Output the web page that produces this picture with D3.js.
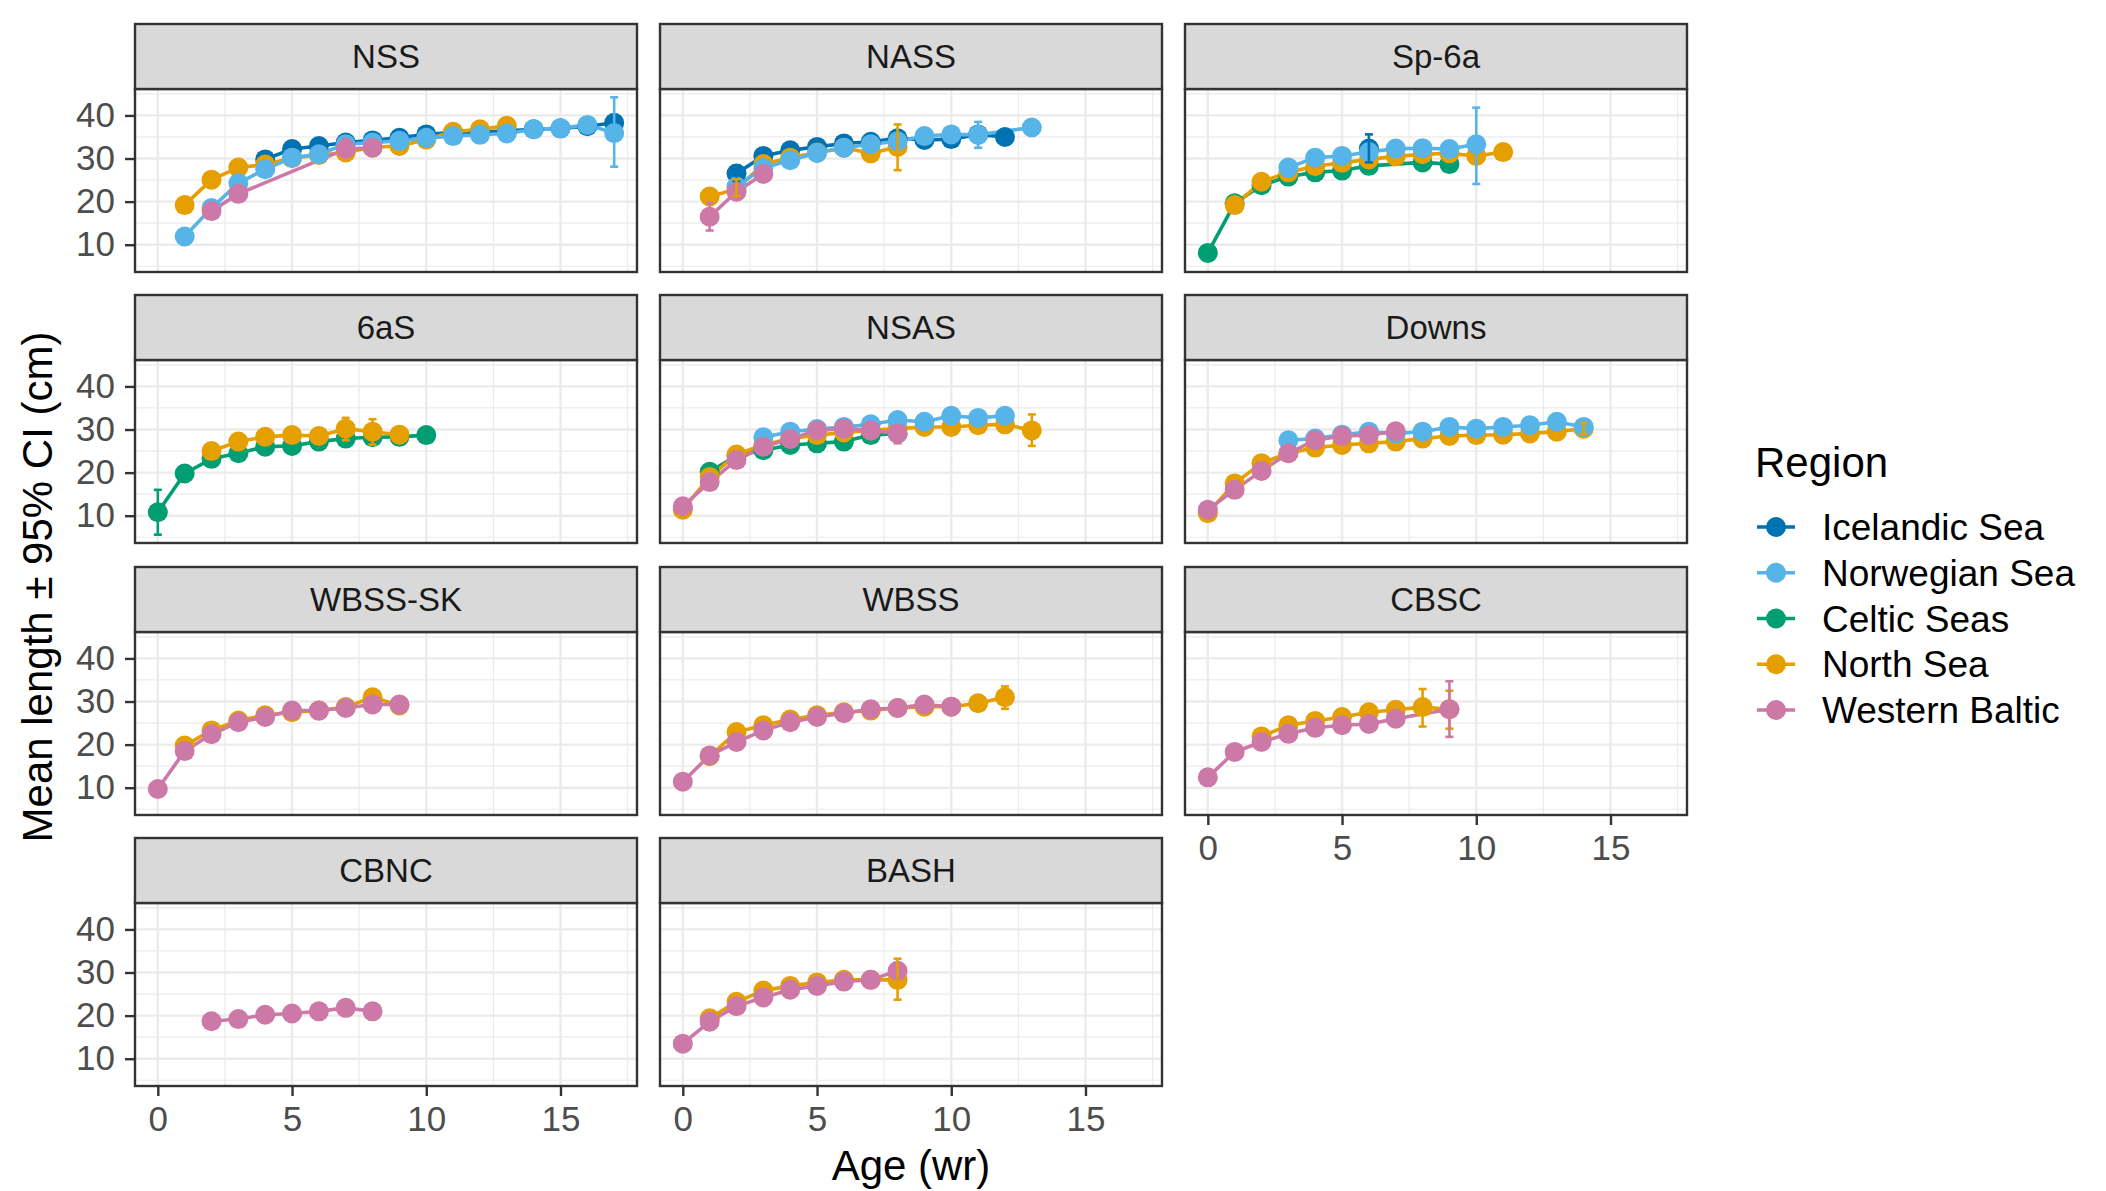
<!DOCTYPE html>
<html><head><meta charset="utf-8">
<script src="https://cdn.jsdelivr.net/npm/d3@7"></script>
<style>body{margin:0;background:#fff}svg{display:block;font-family:"Liberation Sans",Arial,Helvetica,sans-serif}</style>
</head><body><svg id="chart" width="2106" height="1191"></svg>
<script>
// ---------------- DATA ----------------
const panels = ["NSS","NASS","Sp-6a","6aS","NSAS","Downs","WBSS-SK","WBSS","CBSC","CBNC","BASH"];
const regions = ["Icelandic Sea","Norwegian Sea","Celtic Seas","North Sea","Western Baltic"];
const regionColors = ["#0072B2","#56B4E9","#009E73","#E69F00","#CC79A7"];
const drawOrder = ["Celtic Seas","Icelandic Sea","North Sea","Norwegian Sea","Western Baltic"];
const xTicks = [0,5,10,15];
const yTicks = [10,20,30,40];

// mean length per age (cm), one record per panel x region
const series = [
  {panel:"NSS", region:"Icelandic Sea", ages:[4,5,6,7,8,9,10,11,12,13,14,15,16,17], len:[29.8,32.2,32.9,33.7,34.2,34.8,35.6,36.0,36.2,36.4,36.8,37.0,37.5,38.3]},
  {panel:"NSS", region:"Norwegian Sea", ages:[1,2,3,4,5,6,7,8,9,10,11,12,13,14,15,16,17], len:[11.9,18.5,24.3,27.5,30.2,31.0,33.3,33.7,34.1,34.8,35.2,35.5,35.8,36.8,37.0,37.8,35.9]},
  {panel:"NSS", region:"North Sea", ages:[1,2,3,4,5,6,7,8,9,10,11,12,13], len:[19.2,25.1,27.9,28.6,30.1,30.8,31.4,32.6,32.9,34.4,36.2,36.8,37.6]},
  {panel:"NSS", region:"Western Baltic", ages:[2,3,7,8], len:[17.8,21.8,32.2,32.5]},

  {panel:"NASS", region:"Icelandic Sea", ages:[2,3,4,5,6,7,8,9,10,11,12], len:[26.5,30.6,31.9,32.7,33.5,33.9,34.7,34.3,34.5,35.6,35.0]},
  {panel:"NASS", region:"Norwegian Sea", ages:[2,3,4,5,6,7,8,9,10,11,13], len:[23.5,27.8,29.6,31.3,32.5,33.3,34.0,35.2,35.6,35.5,37.2]},
  {panel:"NASS", region:"North Sea", ages:[1,2,3,4,5,6,7,8], len:[21.2,22.9,28.7,30.2,31.4,32.5,31.2,32.7]},
  {panel:"NASS", region:"Western Baltic", ages:[1,2,3], len:[16.5,22.3,26.4]},

  {panel:"Sp-6a", region:"Icelandic Sea", ages:[6], len:[32.3]},
  {panel:"Sp-6a", region:"Norwegian Sea", ages:[3,4,5,6,7,8,9,10], len:[27.9,30.2,30.6,31.5,32.3,32.4,32.2,33.3]},
  {panel:"Sp-6a", region:"Celtic Seas", ages:[0,1,2,3,4,5,6,8,9], len:[8.1,19.6,23.8,25.8,26.8,27.2,28.3,29.1,28.7]},
  {panel:"Sp-6a", region:"North Sea", ages:[1,2,3,4,5,6,7,8,9,10,11], len:[19.2,24.6,26.8,28.2,29.0,29.8,30.5,31.0,31.2,30.6,31.5]},

  {panel:"6aS", region:"Celtic Seas", ages:[0,1,2,3,4,5,6,7,8,9,10], len:[10.8,19.8,23.2,24.5,26.0,26.2,27.2,27.9,28.2,28.3,28.7]},
  {panel:"6aS", region:"North Sea", ages:[2,3,4,5,6,7,8,9], len:[25.0,27.2,28.3,28.7,28.5,30.2,29.5,28.8]},

  {panel:"NSAS", region:"Norwegian Sea", ages:[3,4,5,6,7,8,9,10,11,12], len:[28.2,29.5,30.1,30.6,31.2,32.2,31.8,33.2,32.7,33.2]},
  {panel:"NSAS", region:"Celtic Seas", ages:[1,2,3,4,5,6,7,8], len:[20.2,23.9,25.2,26.4,26.8,27.2,28.7,29.1]},
  {panel:"NSAS", region:"North Sea", ages:[0,1,2,3,4,5,6,7,8,9,10,11,12,13], len:[11.4,19.0,24.2,26.4,27.9,28.7,29.3,29.8,30.2,30.6,30.6,31.0,31.2,29.8]},
  {panel:"NSAS", region:"Western Baltic", ages:[0,1,2,3,4,5,6,7,8], len:[12.2,17.8,22.9,26.0,27.8,29.8,30.2,29.8,29.1]},

  {panel:"Downs", region:"Norwegian Sea", ages:[3,4,5,6,7,8,9,10,11,12,13,14], len:[27.5,27.9,28.8,29.5,29.1,29.5,30.6,30.2,30.6,31.0,31.8,30.6]},
  {panel:"Downs", region:"North Sea", ages:[0,1,2,3,4,5,6,7,8,9,10,11,12,13,14], len:[10.6,17.5,22.2,24.5,25.8,26.4,26.8,27.2,27.9,28.5,28.7,28.8,29.1,29.5,30.2]},
  {panel:"Downs", region:"Western Baltic", ages:[0,1,2,3,4,5,6,7], len:[11.4,16.0,20.4,24.5,27.5,28.5,28.7,29.6]},

  {panel:"WBSS-SK", region:"North Sea", ages:[1,2,3,4,5,6,7,8,9], len:[19.8,23.3,25.6,26.8,27.5,27.9,28.7,31.0,29.1]},
  {panel:"WBSS-SK", region:"Western Baltic", ages:[0,1,2,3,4,5,6,7,8,9], len:[9.7,18.5,22.4,25.2,26.4,27.9,27.9,28.5,29.3,29.3]},

  {panel:"WBSS", region:"North Sea", ages:[1,2,3,4,5,6,7,8,9,10,11,12], len:[17.3,22.9,24.5,25.8,26.8,27.5,27.9,28.5,28.8,28.8,29.6,31.0]},
  {panel:"WBSS", region:"Western Baltic", ages:[0,1,2,3,4,5,6,7,8,9,10], len:[11.4,17.5,20.6,23.3,25.2,26.4,27.3,28.2,28.5,29.3,28.8]},

  {panel:"CBSC", region:"North Sea", ages:[2,3,4,5,6,7,8,9], len:[21.9,24.5,25.5,26.4,27.5,28.1,28.7,28.2]},
  {panel:"CBSC", region:"Western Baltic", ages:[0,1,2,3,4,5,6,7,9], len:[12.4,18.3,20.6,22.5,23.9,24.5,24.8,26.0,28.2]},

  {panel:"CBNC", region:"Western Baltic", ages:[2,3,4,5,6,7,8], len:[18.7,19.2,20.2,20.5,21.0,21.8,21.0]},

  {panel:"BASH", region:"North Sea", ages:[1,2,3,4,5,6,7,8], len:[19.4,23.2,25.8,26.9,27.7,28.3,28.3,28.3]},
  {panel:"BASH", region:"Western Baltic", ages:[0,1,2,3,4,5,6,7,8], len:[13.5,18.6,22.2,24.2,26.0,26.9,27.9,28.3,30.4]}
];

// visible 95% CI bars: [panel, region, age, lower, upper]
const errorBars = [
  ["NSS","Norwegian Sea",17,28.1,44.2],
  ["NSS","Western Baltic",7,30.8,34.5],
  ["NASS","Icelandic Sea",2,24.8,28.4],
  ["NASS","North Sea",2,21.3,25.2],
  ["NASS","North Sea",8,27.3,37.9],
  ["NASS","Western Baltic",1,13.3,19.7],
  ["NASS","Norwegian Sea",11,32.5,38.5],
  ["Sp-6a","Icelandic Sea",6,29.1,35.6],
  ["Sp-6a","Norwegian Sea",10,24.1,41.8],
  ["6aS","Celtic Seas",0,5.6,16.0],
  ["6aS","North Sea",7,27.5,32.7],
  ["6aS","North Sea",8,26.5,32.4],
  ["NSAS","North Sea",13,26.2,33.5],
  ["NSAS","Western Baltic",8,26.8,30.6],
  ["Downs","North Sea",14,29.0,31.5],
  ["WBSS","North Sea",12,28.3,33.5],
  ["CBSC","North Sea",8,24.2,32.9],
  ["CBSC","North Sea",9,23.7,32.5],
  ["CBSC","Western Baltic",9,21.8,34.7],
  ["BASH","North Sea",8,23.7,33.2]
];

// ---------------- LAYOUT ----------------
const colX = [135, 660, 1185];
const rowY = [24, 295, 567, 838];
const panelW = 502, stripH = 65, plotH = 183;
const color = d3.scaleOrdinal().domain(regions).range(regionColors);

const allAges = series.flatMap(s => s.ages);
const xe = d3.extent(allAges), xp = (xe[1]-xe[0])*0.05;
const x = d3.scaleLinear().domain([xe[0]-xp, xe[1]+xp]).range([0, panelW]);
const allY = series.flatMap(s => s.len).concat(errorBars.flatMap(e => [e[3], e[4]]));
const ye = d3.extent(allY), yp = (ye[1]-ye[0])*0.05;
const y = d3.scaleLinear().domain([ye[0]-yp, ye[1]+yp]).range([plotH, 0]);

const xMinor = [2.5,7.5,12.5,17.5];
const yMinor = [5,15,25,35,45];

const svg = d3.select("#chart");
svg.append("rect").attr("width",2106).attr("height",1191).attr("fill","#fff");

const line = d3.line().x(d => x(d[0])).y(d => y(d[1]));
const bottomPanels = ["CBNC","BASH","CBSC"];
const R = 10, LW = 3.6;

panels.forEach((p, i) => {
  const c = i % 3, r = Math.floor(i / 3);
  const gx = colX[c], gy = rowY[r] + stripH;
  const g = svg.append("g").attr("transform", `translate(${gx},${gy})`);
  g.append("rect").attr("width", panelW).attr("height", plotH).attr("fill", "#fff");

  // grid
  g.selectAll(".xmin").data(xMinor.filter(v => v >= x.domain()[0] && v <= x.domain()[1])).join("line")
    .attr("x1", d => x(d)).attr("x2", d => x(d)).attr("y1", 0).attr("y2", plotH)
    .attr("stroke", "#ebebeb").attr("stroke-width", 1.2);
  g.selectAll(".ymin").data(yMinor.filter(v => v >= y.domain()[0] && v <= y.domain()[1])).join("line")
    .attr("y1", d => y(d)).attr("y2", d => y(d)).attr("x1", 0).attr("x2", panelW)
    .attr("stroke", "#ebebeb").attr("stroke-width", 1.2);
  g.selectAll(".xmaj").data(xTicks).join("line")
    .attr("x1", d => x(d)).attr("x2", d => x(d)).attr("y1", 0).attr("y2", plotH)
    .attr("stroke", "#ebebeb").attr("stroke-width", 2.4);
  g.selectAll(".ymaj").data(yTicks).join("line")
    .attr("y1", d => y(d)).attr("y2", d => y(d)).attr("x1", 0).attr("x2", panelW)
    .attr("stroke", "#ebebeb").attr("stroke-width", 2.4);

  const ps = series.filter(s => s.panel === p)
    .sort((a, b) => drawOrder.indexOf(a.region) - drawOrder.indexOf(b.region));

  // lines
  ps.forEach(s => {
    g.append("path").datum(d3.zip(s.ages, s.len)).attr("d", line)
      .attr("fill", "none").attr("stroke", color(s.region)).attr("stroke-width", LW)
      .attr("stroke-linejoin", "round");
  });
  // points
  ps.forEach(s => {
    g.selectAll(null).data(d3.zip(s.ages, s.len)).join("circle")
      .attr("cx", d => x(d[0])).attr("cy", d => y(d[1])).attr("r", R)
      .attr("fill", color(s.region));
  });
  // error bars
  const eb = errorBars.filter(e => e[0] === p);
  eb.forEach(e => {
    const col = color(e[1]), cx = x(e[2]);
    g.append("line").attr("x1", cx).attr("x2", cx).attr("y1", y(e[3])).attr("y2", y(e[4]))
      .attr("stroke", col).attr("stroke-width", 2.6);
    [e[3], e[4]].forEach(v => g.append("line").attr("x1", cx-4).attr("x2", cx+4)
      .attr("y1", y(v)).attr("y2", y(v)).attr("stroke", col).attr("stroke-width", 2.6));
  });

  // border
  g.append("rect").attr("width", panelW).attr("height", plotH).attr("fill", "none")
    .attr("stroke", "#333333").attr("stroke-width", 2.4);

  // strip
  svg.append("rect").attr("x", gx).attr("y", rowY[r]).attr("width", panelW).attr("height", stripH)
    .attr("fill", "#d9d9d9").attr("stroke", "#333333").attr("stroke-width", 2.4);
  svg.append("text").attr("x", gx + panelW/2).attr("y", rowY[r] + stripH/2 + 11.8)
    .attr("text-anchor", "middle").attr("font-size", 33).attr("fill", "#1a1a1a").text(p);

  // axes
  if (c === 0) {
    const ax = g.append("g").call(d3.axisLeft(y).tickValues(yTicks).tickSize(10).tickPadding(10));
    ax.select(".domain").remove();
    ax.selectAll(".tick line").attr("stroke", "#333333").attr("stroke-width", 2.4);
    ax.selectAll(".tick text").attr("font-size", 35).attr("fill", "#4d4d4d")
      .attr("font-family", "Liberation Sans, Arial, sans-serif");
  }
  if (bottomPanels.includes(p)) {
    const ax = g.append("g").attr("transform", `translate(0,${plotH})`)
      .call(d3.axisBottom(x).tickValues(xTicks).tickSize(10).tickPadding(10));
    ax.select(".domain").remove();
    ax.selectAll(".tick line").attr("stroke", "#333333").attr("stroke-width", 2.4);
    ax.selectAll(".tick text").attr("font-size", 35).attr("fill", "#4d4d4d")
      .attr("font-family", "Liberation Sans, Arial, sans-serif");
  }
});

// axis titles
svg.append("text").attr("transform", "translate(52,587) rotate(-90)")
  .attr("text-anchor", "middle").attr("font-size", 42).attr("fill", "#000")
  .text("Mean length ± 95% CI (cm)");
svg.append("text").attr("x", (colX[0] + colX[2] + panelW)/2).attr("y", 1180)
  .attr("text-anchor", "middle").attr("font-size", 42).attr("fill", "#000")
  .text("Age (wr)");

// legend
const lg = svg.append("g").attr("transform", "translate(1755,0)");
lg.append("text").attr("x", 0).attr("y", 477).attr("font-size", 42).attr("fill", "#000").text("Region");
const legY = d3.scalePoint().domain(regions).range([527, 710]);
regions.forEach(rg => {
  const cy = legY(rg);
  lg.append("line").attr("x1", 2).attr("x2", 40).attr("y1", cy).attr("y2", cy)
    .attr("stroke", color(rg)).attr("stroke-width", LW);
  lg.append("circle").attr("cx", 21).attr("cy", cy).attr("r", R).attr("fill", color(rg));
  lg.append("text").attr("x", 67).attr("y", cy + 13).attr("font-size", 37).attr("fill", "#000").text(rg);
});
</script>
</body></html>
